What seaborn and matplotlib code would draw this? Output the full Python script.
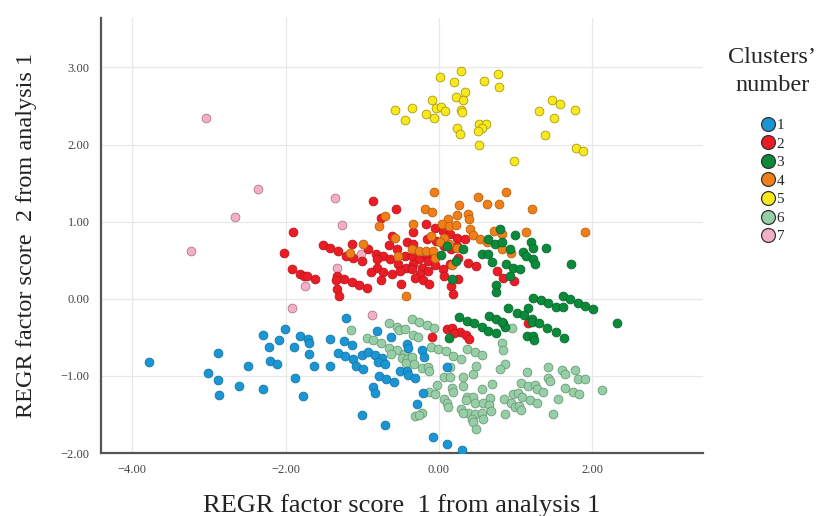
import matplotlib
matplotlib.use("Agg")
import matplotlib.pyplot as plt
from matplotlib.lines import Line2D
import seaborn as sns
import pandas as pd

# ---- data ----
c1_x = [-3.78, -3.01, -2.88, -2.88, -2.87, -2.61, -2.49, -2.29, -2.29, -2.22, -2.09, -2.01, -2.20, -2.11,
        -1.89, -1.81, -1.88, -1.77, -1.21, -1.71, -1.69, -1.69, -1.63, -1.42, -1.42, -1.24, -1.13, -1.32,
        -1.23, -1.12, -1.08, -0.99, -1.00, -0.93, -0.83, -0.81, -0.74, -0.80, -0.70, -0.63, -0.42, -0.40,
        -0.22, -0.20, -0.51, -0.42, -0.40, -0.31, -0.78, -0.69, -0.59, -0.86, -0.83, -0.29, -1.00, -0.70,
        -0.21, 0.10, -0.08, 0.10, 0.30]
c1_y = [-0.82, -0.96, -0.70, -1.05, -1.25, -1.13, -0.87, -1.17, -0.47, -0.62, -0.53, -0.39, -0.81, -0.84,
        -0.62, -0.48, -1.03, -1.26, -0.25, -0.52, -0.57, -0.71, -0.87, -0.52, -0.87, -0.55, -0.60, -0.70,
        -0.74, -0.78, -0.87, -0.91, -0.73, -0.69, -0.73, -0.42, -0.77, -0.82, -0.84, -0.49, -0.58, -0.64,
        -0.66, -0.75, -0.94, -0.94, -0.99, -1.03, -1.00, -1.04, -1.08, -1.14, -1.22, -1.36, -1.51, -1.64,
        -1.22, -0.88, -1.79, -1.88, -1.96]

c2_x = [-1.90, -2.02, -1.92, -1.81, -1.76, -0.86, -0.56, -0.76, -0.17, -0.05, -0.34, -0.61, -0.16, -0.04,
        0.05, 0.14, 0.23, -0.42, -0.34, -1.13, -1.51, -1.42, -1.32, -1.21, -1.12, -1.00, -0.93, -0.82,
        -0.73, -0.65, -0.55, -0.44, -0.35, -0.26, -0.16, -0.81, -0.64, -0.53, -0.43, -0.34, -0.22, -0.14,
        -0.05, -0.81, -0.89, -0.73, -0.61, -0.51, -0.35, -0.25, -0.14, 0.05, 0.14, 0.25, 0.38, 0.48, 0.34,
        0.23, 0.16, 0.07, -1.72, -1.62, -1.33, -1.24, -1.13, -1.04, -0.94, -1.34, -1.33, -1.30, -0.76,
        -0.50, -0.31, -0.21, -0.13, 0.07, 0.25, 0.16, 0.18, 0.76, 0.83, 0.98, -0.09, 0.10, 0.17, 0.27,
        0.35, 0.39, 0.20, 1.16]
c2_y = [0.87, 0.60, 0.38, 0.32, 0.30, 1.27, 1.16, 1.05, 0.97, 0.92, 0.86, 0.82, 0.78, 0.75, 0.88, 0.84,
        0.79, 0.73, 0.71, 0.71, 0.70, 0.66, 0.62, 0.56, 0.53, 0.49, 0.64, 0.58, 0.55, 0.70, 0.65, 0.56,
        0.56, 0.51, 0.56, 0.51, 0.51, 0.45, 0.40, 0.45, 0.40, 0.49, 0.44, 0.40, 0.35, 0.35, 0.32, 0.36,
        0.38, 0.32, 0.36, 0.39, 0.45, 0.53, 0.47, 0.43, 0.77, 0.69, 0.65, 0.68, 0.29, 0.26, 0.30, 0.26,
        0.22, 0.18, 0.14, 0.25, 0.13, 0.03, 0.25, 0.19, 0.27, 0.25, 0.19, 0.30, 0.26, 0.17, 0.06, 0.36,
        0.27, 0.23, -0.49, -0.39, -0.38, -0.43, -0.47, -0.52, -0.44, -0.32]

c3_x = [0.03, 0.10, 0.22, 0.31, 0.17, 0.56, 0.64, 0.69, 0.64, 0.73, 0.80, 0.82, 0.74, 0.74, 0.99, 1.20,
        1.23, 1.40, 0.93, 1.10, 1.13, 1.23, 1.25, 0.87, 0.96, 1.06, 1.72, 0.93, 1.23, 1.33, 1.42, 1.53,
        1.62, 1.71, 1.81, 1.90, 2.01, 1.62, 0.90, 1.16, 2.32, 1.02, 1.11, 1.21, 1.21, 0.83, 0.86, 1.30,
        1.41, 1.53, 1.63, 1.15, 1.23, 1.24, 0.26, 0.37, 0.46, 0.56, 0.65, 0.74, 0.82, 0.64, 0.74, 0.13]
c3_y = [0.57, 0.69, 0.49, 0.64, 0.26, 0.58, 0.58, 0.48, 0.78, 0.71, 0.91, 0.73, 0.18, 0.09, 0.83, 0.74,
        0.66, 0.66, 0.65, 0.61, 0.55, 0.52, 0.45, 0.45, 0.40, 0.38, 0.45, 0.30, 0.01, -0.01, -0.06, -0.10,
        0.04, 0.00, -0.05, -0.09, -0.13, -0.10, -0.12, -0.12, -0.31, -0.19, -0.21, -0.26, -0.30, -0.31,
        -0.36, -0.32, -0.38, -0.43, -0.51, -0.48, -0.48, -0.53, -0.23, -0.29, -0.31, -0.36, -0.22, -0.26,
        -0.30, -0.42, -0.44, -0.51]

c4_x = [-0.07, 0.51, 0.63, 0.78, 0.26, -0.18, -0.09, 0.38, 0.23, 0.39, 0.12, -0.70, -0.78, -0.34, 0.04,
        0.13, 0.22, 0.40, 0.44, 0.53, -0.10, 0.07, -0.57, -0.99, -1.16, -0.53, -0.35, -0.26, -0.17, -0.08,
        -0.05, 0.01, 0.13, 0.23, 0.17, -0.43, 0.72, 0.82, 0.63, 0.87, 1.21, 1.13, 1.90, 0.82, 0.94]
c4_y = [1.39, 1.32, 1.23, 1.23, 1.22, 1.17, 1.12, 1.10, 1.09, 1.04, 1.04, 1.08, 0.94, 0.97, 0.97, 0.95,
        0.96, 0.91, 0.83, 0.78, 0.82, 0.79, 0.79, 0.71, 0.60, 0.56, 0.65, 0.62, 0.62, 0.62, 0.53, 0.74,
        0.71, 0.66, 0.44, 0.03, 0.88, 0.84, 0.73, 1.39, 1.17, 0.87, 0.87, 0.65, 0.60]

c5_x = [0.01, 0.29, 0.20, 0.59, 0.77, 0.78, 0.22, 0.34, 0.31, -0.09, -0.04, 0.03, 0.08, -0.57, -0.35,
        -0.44, -0.17, -0.07, 0.29, 0.30, 0.23, 0.27, 0.52, 0.61, 0.56, 0.51, 0.52, 1.47, 1.58, 1.30, 1.77,
        1.50, 1.38, 1.79, 1.88, 0.98]
c5_y = [2.88, 2.95, 2.81, 2.82, 2.92, 2.74, 2.62, 2.68, 2.58, 2.58, 2.47, 2.49, 2.43, 2.45, 2.48, 2.32,
        2.39, 2.35, 2.45, 2.42, 2.22, 2.14, 2.27, 2.26, 2.21, 2.17, 2.00, 2.58, 2.53, 2.43, 2.45, 2.35,
        2.13, 1.95, 1.91, 1.79]

c6_x = [-1.15, -0.65, -0.55, -0.52, -0.44, -0.35, -0.26, -0.16, -0.07, -0.34, -0.27, -0.94, -0.86, -0.76,
        -0.65, -0.55, -0.46, -0.63, -0.48, -0.42, -0.35, -0.43, -0.33, -0.22, -0.14, -0.13, -0.10, -0.01,
        0.09, 0.18, 0.29, 0.37, 0.47, 0.56, 0.14, 0.07, 0.14, 0.31, 0.44, 0.48, -0.03, -0.13, -0.05, 0.17,
        0.18, 0.31, 0.56, 0.69, 0.07, 0.10, 0.12, 0.37, 0.44, 0.35, 0.47, 0.57, 0.66, 0.65, 0.29, 0.38,
        0.31, 0.47, 0.56, 0.43, 0.44, 0.57, 0.68, 0.48, -0.22, -0.31, -0.26, 0.95, 0.82, 0.83, 0.86, 0.80,
        1.15, 1.42, 1.60, 1.64, 1.77, 1.42, 1.45, 1.81, 1.90, 1.07, 1.16, 1.25, 1.28, 1.36, 1.64, 1.75,
        1.83, 2.13, 0.96, 1.03, 1.08, 0.85, 0.94, 1.19, 1.28, 1.55, 0.99, 1.04, 1.07, 0.86, 1.49]
c6_y = [-0.40, -0.31, -0.36, -0.40, -0.39, -0.26, -0.30, -0.34, -0.38, -0.47, -0.49, -0.51, -0.53, -0.57,
        -0.64, -0.66, -0.71, -0.71, -0.77, -0.78, -0.75, -0.83, -0.84, -0.90, -0.88, -0.94, -0.62, -0.65,
        -0.68, -0.74, -0.78, -0.65, -0.69, -0.73, -0.88, -1.01, -1.01, -1.01, -0.97, -0.87, -1.12, -1.21,
        -1.23, -1.16, -1.21, -1.13, -1.17, -1.10, -1.30, -1.35, -1.40, -1.27, -1.27, -1.31, -1.35, -1.35,
        -1.29, -1.38, -1.43, -1.48, -1.48, -1.49, -1.48, -1.56, -1.60, -1.56, -1.45, -1.69, -1.48, -1.52,
        -1.51, -0.38, -0.57, -0.66, -0.84, -0.91, -0.95, -0.88, -0.92, -0.97, -0.92, -1.03, -1.06, -1.04,
        -1.04, -1.09, -1.13, -1.12, -1.17, -1.21, -1.16, -1.21, -1.23, -1.18, -1.23, -1.22, -1.27, -1.30,
        -1.35, -1.31, -1.35, -1.30, -1.40, -1.39, -1.44, -1.49, -1.49]

c7_x = [-3.04, -3.23, -2.66, -2.36, -1.92, -1.75, -1.36, -1.26, -1.33, -1.02, -0.87]
c7_y = [2.35, 0.62, 1.06, 1.42, -0.12, 0.17, 1.31, 0.96, 0.40, 0.58, -0.21]

cluster_labels = ["1", "2", "3", "4", "5", "6", "7"]
cluster_colors = ["#1b95d3", "#ec1c24", "#0a8a3a", "#f07f18", "#f8e81c", "#96cfa6", "#f3aec8"]
cluster_edges = ["#1478a8", "#b81820", "#076a2c", "#b8600f", "#a89a10", "#6a9a78", "#b07a8e"]

xs = [c1_x, c2_x, c3_x, c4_x, c5_x, c6_x, c7_x]
ys = [c1_y, c2_y, c3_y, c4_y, c5_y, c6_y, c7_y]

frames = []
for lab, xv, yv in zip(cluster_labels, xs, ys):
    frames.append(pd.DataFrame({"x": xv, "y": yv, "cluster": lab}))
df = pd.concat(frames, ignore_index=True)

x_ticks = [-4, -2, 0, 2]
y_ticks = [-2, -1, 0, 1, 2, 3]

# ---- plot ----
sns.set_theme(style="white")
serif = ["Liberation Serif", "DejaVu Serif"]
plt.rcParams["font.family"] = serif

fig = plt.figure(figsize=(8.19, 5.16), dpi=100)
ax = fig.add_axes([0.123, 0.122, 0.735, 0.843])

draw_order = ["6", "1", "7", "5", "2", "4", "3"]
for lab in draw_order:
    i = cluster_labels.index(lab)
    sns.scatterplot(data=df[df["cluster"] == lab], x="x", y="y", color=cluster_colors[i],
                    edgecolor=cluster_edges[i], linewidth=0.6, s=40, ax=ax, legend=False, zorder=3)

ax.set_xlim(-4.41, 3.44)
ax.set_ylim(-2.0, 3.64)
ax.set_xticks(x_ticks)
ax.set_yticks(y_ticks)
ax.set_xticklabels([f"{v:.2f}".replace("-", "\u2212") for v in x_ticks])
ax.set_yticklabels([f"{v:.2f}".replace("-", "\u2212") for v in y_ticks])
ax.tick_params(axis="both", labelsize=9, colors="#444444", length=0, pad=8)
ax.grid(True, color="#e8e8e8", linewidth=0.9)
ax.set_axisbelow(True)
for side in ["top", "right"]:
    ax.spines[side].set_visible(False)
for side in ["left", "bottom"]:
    ax.spines[side].set_color("#555555")
    ax.spines[side].set_linewidth(1.6)

ax.set_xlabel("REGR factor score  1 from analysis 1", fontsize=19, color="#222222", labelpad=13)
ax.set_ylabel("REGR factor score  2 from analysis 1", fontsize=17.5, color="#222222", labelpad=17)

handles = [Line2D([0], [0], marker="o", linestyle="", markersize=10,
                  markerfacecolor=c, markeredgecolor="#333333", markeredgewidth=0.9)
           for c in cluster_colors]
leg = fig.legend(handles, cluster_labels, title="Clusters\u2019\nnumber", loc="upper center",
                 bbox_to_anchor=(0.943, 0.93), frameon=False, fontsize=11, title_fontsize=17.5,
                 handletextpad=0.05, labelspacing=0.32, borderpad=0.2, handlelength=1.0)
leg.get_title().set_multialignment("center")
leg.get_title().set_linespacing(1.45)
leg._legend_box.sep = 16

fig.savefig("out.png", dpi=100)
